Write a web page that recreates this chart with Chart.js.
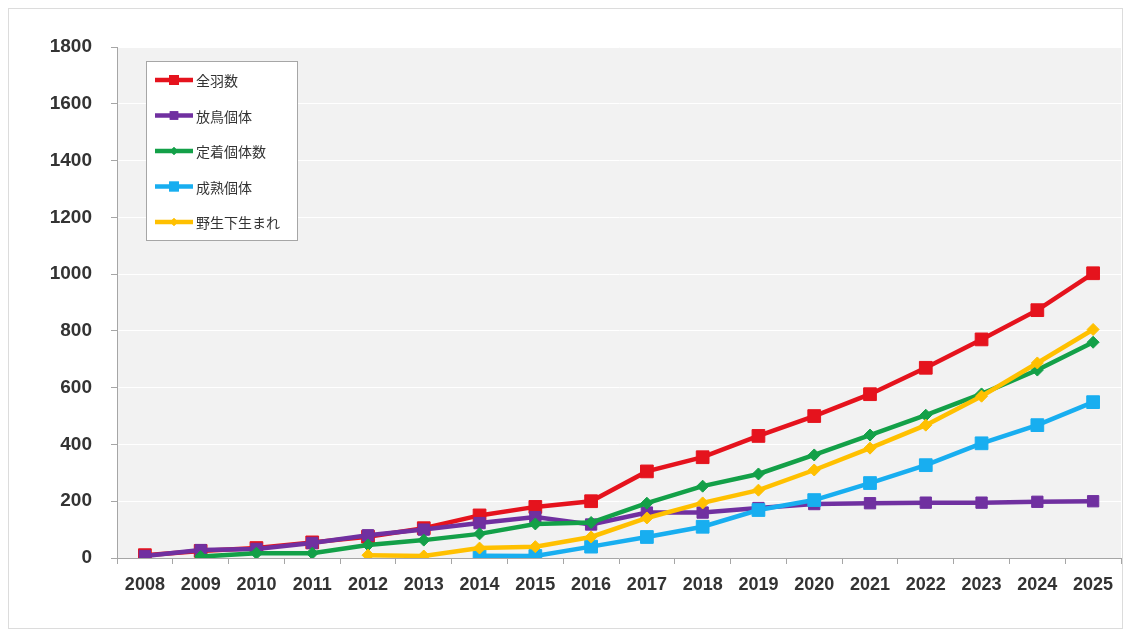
<!DOCTYPE html>
<html lang="ja">

<head>
    <meta charset="UTF-8">
    <title>個体数の推移</title>
    <script src="https://cdn.jsdelivr.net/npm/chart.js"></script>
    <style>
        body {
            margin: 0;
            background-color: #ffffff;
        }

        #wrap {
            position: relative;
            width: 1131px;
            height: 637px;
        }
    </style>
</head>

<body>
    <div id="wrap">
        <canvas id="popChart" width="1131" height="637"></canvas>
    </div>

    <script>
        // years on the x axis
        const years = ['2008', '2009', '2010', '2011', '2012', '2013', '2014', '2015', '2016',
            '2017', '2018', '2019', '2020', '2021', '2022', '2023', '2024', '2025'];

        // series (null = no count that year)
        const totalBirds = [10, 25, 35, 55, 75, 105, 150, 180, 200, 305, 355, 430, 500, 577, 670, 770, 873, 1003];
        const releasedBirds = [7, 28, 32, 53, 80, 100, 123, 144, 118, 160, 160, 176, 190, 193, 195, 195, 198, 200];
        const settledBirds = [null, 5, 17, 17, 46, 63, 85, 120, 125, 193, 253, 296, 363, 433, 503, 578, 662, 760];
        const matureBirds = [null, null, null, null, null, null, 8, 7, 40, 74, 110, 169, 204, 264, 327, 404, 468, 549];
        const wildBorn = [null, null, null, null, 10, 7, 35, 40, 74, 141, 194, 239, 310, 387, 468, 570, 687, 805];

        // y axis
        const yMin = 0;
        const yMax = 1800;
        const yStep = 200;

        function series(label, data, color, style, radius, order) {
            return {
                label: label,
                data: data,
                borderColor: color,
                backgroundColor: color,
                pointBackgroundColor: color,
                pointBorderColor: color,
                pointStyle: style,
                pointRadius: radius,
                pointBorderWidth: 1,
                borderWidth: 4.5,
                tension: 0,
                spanGaps: false,
                order: order
            };
        }

        // grey plot area + thin frame round the whole figure
        const backdrop = {
            id: 'backdrop',
            beforeDraw(chart) {
                const ctx = chart.ctx;
                const a = chart.chartArea;
                ctx.save();
                ctx.fillStyle = '#ffffff';
                ctx.fillRect(0, 0, chart.width, chart.height);
                ctx.strokeStyle = '#dcdcdc';
                ctx.lineWidth = 1;
                ctx.strokeRect(8.5, 8.5, chart.width - 17, chart.height - 17);
                ctx.fillStyle = '#f2f2f2';
                ctx.fillRect(a.left, a.top, a.right - a.left, a.bottom - a.top);
                ctx.restore();
            }
        };

        // boxed legend in the upper-left corner of the plot
        const boxLegend = {
            id: 'boxLegend',
            afterDatasetsDraw(chart) {
                const ctx = chart.ctx;
                const x0 = 146, y0 = 61, w = 151, h = 179;
                ctx.save();
                ctx.fillStyle = '#ffffff';
                ctx.fillRect(x0, y0, w, h);
                ctx.strokeStyle = '#a6a6a6';
                ctx.lineWidth = 1;
                ctx.strokeRect(x0 + 0.5, y0 + 0.5, w, h);

                chart.data.datasets.forEach((ds, i) => {
                    const y = 80 + i * 35.5;
                    ctx.strokeStyle = ds.borderColor;
                    ctx.lineWidth = 4.5;
                    ctx.beginPath();
                    ctx.moveTo(155, y);
                    ctx.lineTo(193, y);
                    ctx.stroke();
                    ctx.fillStyle = ds.borderColor;
                    Chart.helpers.drawPoint(ctx, {
                        pointStyle: ds.pointStyle,
                        radius: Math.max(ds.pointRadius - 2, 4),
                        borderWidth: 0,
                        rotation: 0
                    }, 174, y);
                    ctx.fill();
                    ctx.fillStyle = '#333333';
                    ctx.font = '14px "Noto Sans CJK JP"';
                    ctx.textBaseline = 'middle';
                    ctx.textAlign = 'left';
                    ctx.fillText(ds.label, 196, y + 1);
                });
                ctx.restore();
            }
        };

        const ctx = document.getElementById('popChart').getContext('2d');
        new Chart(ctx, {
            type: 'line',
            data: {
                labels: years,
                datasets: [
                    series('全羽数', totalBirds, '#e5131d', 'rect', 9, 5),
                    series('放鳥個体', releasedBirds, '#7030a0', 'rect', 8, 4),
                    series('定着個体数', settledBirds, '#13a048', 'rectRot', 6, 3),
                    series('成熟個体', matureBirds, '#18aef0', 'rect', 9, 2),
                    series('野生下生まれ', wildBorn, '#ffc000', 'rectRot', 6, 1)
                ]
            },
            options: {
                responsive: false,
                animation: false,
                layout: {
                    padding: { left: 0, top: 47, right: 9, bottom: 45 }
                },
                plugins: {
                    legend: { display: false },
                    tooltip: { enabled: false }
                },
                scales: {
                    x: {
                        offset: true,
                        grid: {
                            offset: true,
                            drawOnChartArea: false,
                            tickLength: 6,
                            tickColor: '#a6a6a6'
                        },
                        border: { color: '#a6a6a6', width: 1 },
                        ticks: {
                            color: '#333333',
                            padding: 10,
                            maxRotation: 0,
                            autoSkip: false,
                            font: { family: '"Liberation Sans", Arial', size: 18, weight: 'bold' }
                        },
                        afterFit: function (scale) { scale.height = 34; }
                    },
                    y: {
                        min: yMin,
                        max: yMax,
                        grid: {
                            color: '#ffffff',
                            lineWidth: 1,
                            tickLength: 6,
                            tickColor: '#a6a6a6'
                        },
                        border: { color: '#a6a6a6', width: 1 },
                        ticks: {
                            stepSize: yStep,
                            color: '#333333',
                            padding: 19,
                            font: { family: '"Liberation Sans", Arial', size: 19, weight: 'bold' },
                            callback: function (value) { return String(value); }
                        },
                        afterFit: function (scale) { scale.width = 117; }
                    }
                }
            },
            plugins: [backdrop, boxLegend]
        });
    </script>
</body>

</html>
